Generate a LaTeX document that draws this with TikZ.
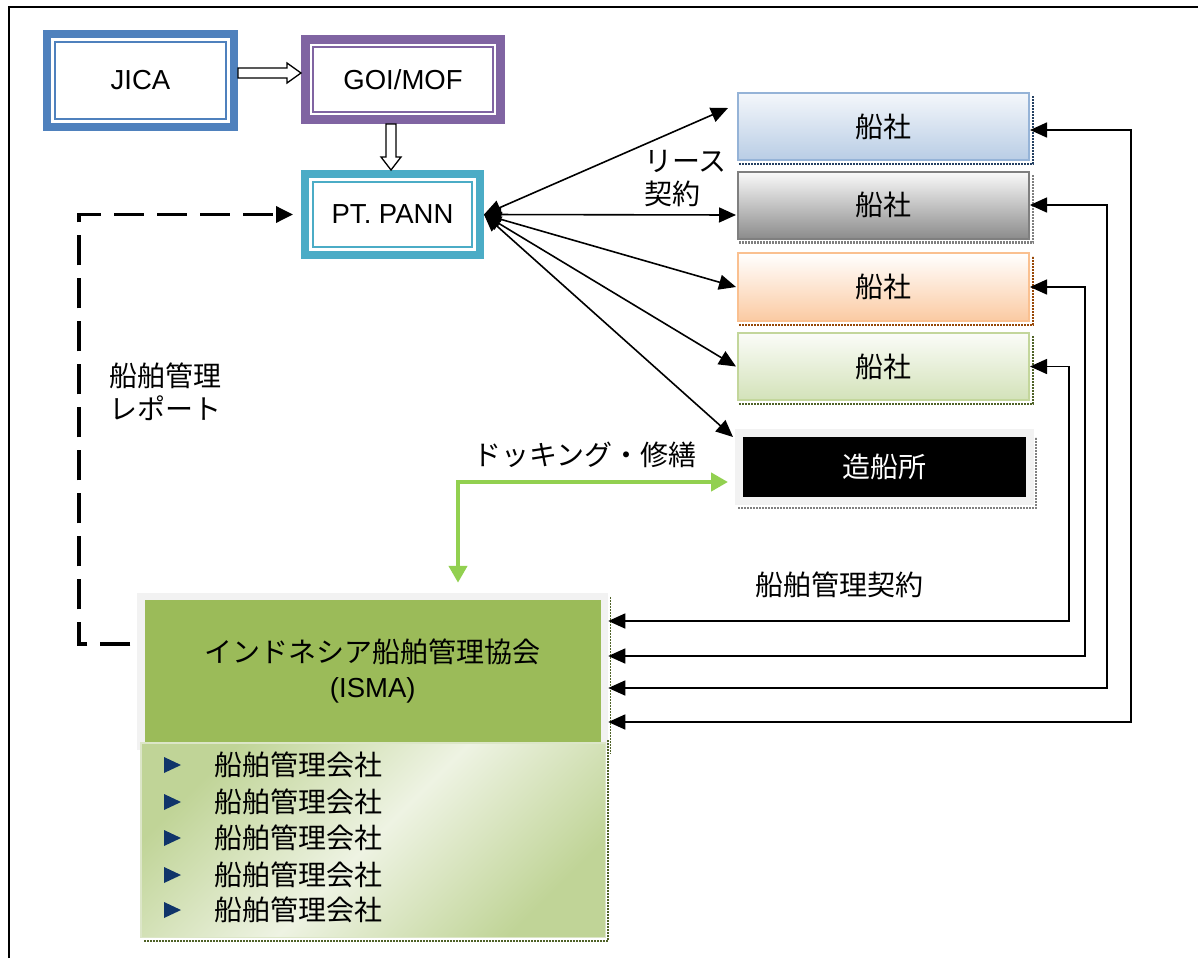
\documentclass[tikz,border=0pt]{standalone}
\usepackage{fontspec}
\setmainfont{Liberation Sans}
\newfontfamily\jp{Noto Sans CJK JP}
\usetikzlibrary{arrows.meta,calc}
\definecolor{jblue}{HTML}{4F81BD}
\definecolor{gpurple}{HTML}{8064A2}
\definecolor{pteal}{HTML}{4BACC6}
\definecolor{bAline}{HTML}{95B3D7}
\definecolor{bAtop}{HTML}{F4F7FB}
\definecolor{bAbot}{HTML}{B9CDE5}
\definecolor{bAsh}{HTML}{244061}
\definecolor{bBline}{HTML}{7F7F7F}
\definecolor{bBtop}{HTML}{FAFAFA}
\definecolor{bBbot}{HTML}{8C8C8C}
\definecolor{bBsh}{HTML}{7F7F7F}
\definecolor{bCline}{HTML}{FAC090}
\definecolor{bCtop}{HTML}{FFFFFF}
\definecolor{bCbot}{HTML}{FBCAA2}
\definecolor{bCsh}{HTML}{984807}
\definecolor{bDline}{HTML}{C3D69B}
\definecolor{bDtop}{HTML}{FBFCF8}
\definecolor{bDbot}{HTML}{D3E2B9}
\definecolor{bDsh}{HTML}{4F6228}
\definecolor{lgray}{HTML}{F2F2F2}
\definecolor{igreen}{HTML}{9BBB59}
\definecolor{lstlight}{HTML}{EEF3E3}
\definecolor{lstdark}{HTML}{C0D497}
\definecolor{lstborder}{HTML}{DCE6C8}
\definecolor{navy}{HTML}{10356A}
\definecolor{dockgreen}{HTML}{92D050}
\newcommand{\latf}{\fontsize{27.5}{33}\selectfont}
\newcommand{\jpf}{\fontsize{28}{33}\selectfont\jp}
\tikzset{
  dblbox/.style={draw=#1, fill=white, inner sep=0pt, font=\latf},
  innerline/.style={line width=1.5},
  hollow/.style={draw=black, line width=1.3, fill=white, line join=miter},
  shipbox/.style={line width=2, minimum width=291, inner sep=0pt, font=\jpf},
  shadowline/.style={line width=2.5, dash pattern=on 2pt off 1pt},
  conn/.style={line width=1.6, >={Triangle[length=17pt,width=15pt]}, <->},
  dashc/.style={line width=3.5, dash pattern=on 30pt off 13pt, -{Triangle[length=17pt,width=16pt]}, shorten <=7pt, shorten >=8pt},
  greenc/.style={draw=dockgreen, line width=4.5, >={Triangle[length=17pt,width=18pt]}, <->, shorten <=10pt, shorten >=7pt},
  lbl/.style={font=\jpf, inner sep=0pt},
  item/.style={font=\jpf, inner sep=0pt, anchor=west}
}
\begin{document}
\begin{tikzpicture}[x=1pt,y=-1pt]
\useasboundingbox (0,0) rectangle (1198,958);
% frame
\draw[line width=2] (9,958) -- (9,7) -- (1198,7);

% top boxes
\node[dblbox=jblue, line width=8, minimum width=187, minimum height=93] (jica) at (140.5,80.5) {JICA};
\draw[jblue, innerline] ([shift={(12,12)}]jica.north west) rectangle ([shift={(-12,-12)}]jica.south east);
\node[dblbox=gpurple, line width=9, minimum width=195, minimum height=80] (goi) at (403,79.5) {GOI/MOF};
\draw[gpurple, innerline] ([shift={(12,12)}]goi.north west) rectangle ([shift={(-12,-12)}]goi.south east);
\node[dblbox=pteal, line width=8, minimum width=175, minimum height=81] (pann) at (392.5,214.5) {PT. PANN};
\draw[pteal, innerline] ([shift={(12,12)}]pann.north west) rectangle ([shift={(-12,-12)}]pann.south east);

% hollow arrows
\coordinate (ha) at ($(jica.east)+(0,-7.5)$);
\draw[hollow] ($(ha)+(0,-5)$) -- ($(ha)+(49,-5)$) -- ($(ha)+(49,-10)$) -- (goi.west |- ha)
  -- ($(ha)+(49,10)$) -- ($(ha)+(49,5)$) -- ($(ha)+(0,5)$) -- cycle;
\coordinate (va) at ($(goi.south)+(-12,0)$);
\draw[hollow] ($(va)+(-5,0)$) -- ($(va)+(-5,33)$) -- ($(va)+(-10,33)$) -- (va |- pann.north)
  -- ($(va)+(10,33)$) -- ($(va)+(5,33)$) -- ($(va)+(5,0)$) -- cycle;

% ship company boxes
\coordinate (bApos) at (883.5,126.5);
\coordinate (bBpos) at (883.5,205);
\coordinate (bCpos) at (883.5,287);
\coordinate (bDpos) at (883.5,366.5);
\node[shipbox, draw=bAline, top color=bAtop, bottom color=bAbot, minimum height=67] (b1) at (bApos) {船社};
\node[shipbox, draw=bBline, top color=bBtop, bottom color=bBbot, minimum height=67] (b2) at (bBpos) {船社};
\node[shipbox, draw=bCline, top color=bCtop, bottom color=bCbot, minimum height=68] (b3) at (bCpos) {船社};
\node[shipbox, draw=bDline, top color=bDtop, bottom color=bDbot, minimum height=67] (b4) at (bDpos) {船社};
\draw[shadowline, bAsh] ([shift={(2,3)}]b1.south west) -- ([shift={(3,3)}]b1.south east) -- ([shift={(3,4)}]b1.north east);
\draw[shadowline, bBsh] ([shift={(2,3)}]b2.south west) -- ([shift={(3,3)}]b2.south east) -- ([shift={(3,4)}]b2.north east);
\draw[shadowline, bCsh] ([shift={(2,3)}]b3.south west) -- ([shift={(3,3)}]b3.south east) -- ([shift={(3,4)}]b3.north east);
\draw[shadowline, bDsh] ([shift={(2,3)}]b4.south west) -- ([shift={(3,3)}]b4.south east) -- ([shift={(3,4)}]b4.north east);

% shipyard
\node[fill=black, draw=lgray, line width=8, minimum width=291, minimum height=68, inner sep=0pt, text=white, font=\jpf] (yard) at (884.5,467) {造船所};
\draw[shadowline, gray] ([shift={(3,3)}]yard.south west) -- ([shift={(2,3)}]yard.south east) -- ([shift={(2,8)}]yard.north east);

% ISMA
\node[fill=igreen, draw=lgray, line width=7.5, minimum width=463.5, minimum height=149.5, inner sep=0pt, align=center, font=\fontsize{27.5}{35}\selectfont] (isma) at (372.75,671.25) {{\fontsize{28}{35}\selectfont\jp インドネシア船舶管理協会}\\(ISMA)};
\draw[shadowline, line width=1.5, bDsh] ([shift={(2,4)}]isma.north east) -- ([shift={(2,4)}]isma.south east);
\node[draw=lstborder, line width=1.5, minimum width=464.5, minimum height=194.5, inner sep=0pt,
  left color=lstdark, right color=lstdark, middle color=lstlight, shading angle=45] (list) at (373,840) {};
\draw[shadowline, bDsh] ([shift={(4,3)}]list.south west) -- ([shift={(2,3)}]list.south east) -- ([shift={(2,-2)}]list.north east);
\foreach \i/\yy in {1/765,2/802,3/838,4/875,5/910}{
  \node[item] (item\i) at (214,\yy) {船舶管理会社};
  \fill[navy] ($(item\i.west)+(-50,-8)$) -- ($(item\i.west)+(-33,0)$) -- ($(item\i.west)+(-50,8)$) -- cycle;
}

% fan arrows from PT. PANN
\draw[conn] (pann.east) -- ([shift={(-9,16)}]b1.north west);
\draw[conn] (pann.east) -- ([shift={(-1,10)}]b2.west);
\draw[conn] (pann.east) -- ([xshift=-1]b3.west);
\draw[conn] (pann.east) -- ([xshift=-1]b4.west);
\draw[conn] (pann.east) -- ([shift={(-2,8)}]yard.north west);

% management contract connectors
\coordinate (r1) at (1131,722);
\coordinate (r2) at (1107,688);
\coordinate (r3) at (1085,656);
\coordinate (r4) at (1069,621);
\draw[conn] ([yshift=-3.5]b1.east) -| (r1) -- (isma.east |- r1);
\draw[conn] (b2.east) -| (r2) -- (isma.east |- r2);
\draw[conn] (b3.east) -| (r3) -- (isma.east |- r3);
\draw[conn] (b4.east) -| (r4) -- (isma.east |- r4);

% dashed report line
\coordinate (dl) at (79,644);
\draw[dashc] (isma.west |- dl) -| (dl |- pann.west) -- (pann.west);

% docking
\coordinate (g) at (458,482);
\draw[greenc] (g |- isma.north) |- (yard.west |- g);

% labels
\node[lbl, anchor=west, align=left] (lease) at (644,178.5) {リース\\契約};
\node[lbl, anchor=west, align=left] (report) at (109,391.5) {船舶管理\\レポート};
\node[lbl] (dock) at (585,455) {ドッキング・修繕};
\node[lbl] (mgmt) at (839,585) {船舶管理契約};
\end{tikzpicture}
\end{document}
